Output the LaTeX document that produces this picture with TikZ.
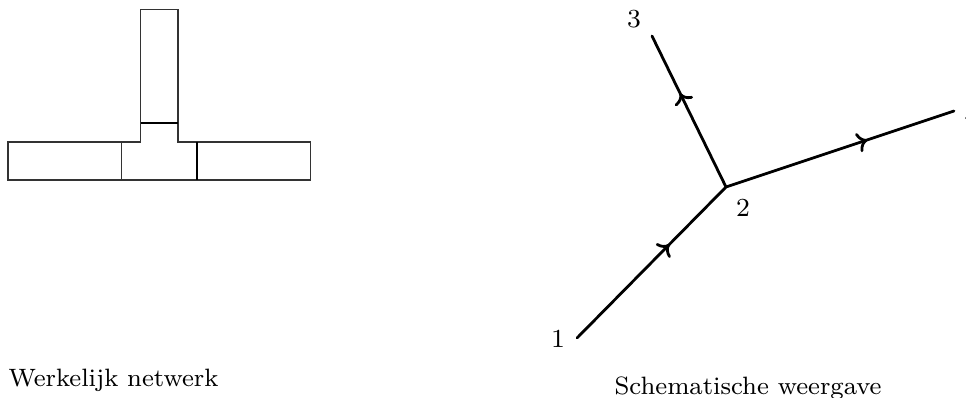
\documentclass[tikz,border=0pt]{standalone}
\usetikzlibrary{decorations.markings,arrows.meta}
\tikzset{
  pipe/.style={line width=1.15pt,black!80},
  flow/.style={line width=2.8pt,line cap=round,postaction={decorate},
    decoration={markings,mark=at position 0.62 with {\arrow[line width=2.8pt]{Computer Modern Rightarrow[length=10pt,width=20pt]}}}},
  lbl/.style={inner sep=0pt,scale=3.25,font=\fontsize{8}{10}\selectfont},
  captext/.style={inner sep=0pt,anchor=base west,scale=3.14,font=\fontsize{8}{10}\selectfont}
}
\begin{document}
\begin{tikzpicture}[x=1pt,y=-1pt]
\useasboundingbox (0,0) rectangle (966,398);
% network
\coordinate (a) at (8,142); \coordinate (b) at (140.5,142);
\coordinate (c) at (140.5,9.5); \coordinate (d) at (178,9.5);
\coordinate (e) at (178,142); \coordinate (f) at (310.5,142);
\coordinate (g) at (310.5,180); \coordinate (h) at (8,180);
\coordinate (j1) at (121.5,142); \coordinate (j2) at (121.5,180);
\coordinate (k1) at (197,142); \coordinate (k2) at (197,180);
\coordinate (m1) at (140.5,123); \coordinate (m2) at (178,123);
\draw[pipe,line join=miter] (a)--(b)--(c)--(d)--(e)--(f)--(g)--(h)--cycle;
\draw[pipe] (j1)--(j2);
\draw[pipe,line width=1.4pt,black] (k1)--(k2);
\draw[pipe,line width=1.4pt,black] (m1)--(m2);
% schematic
\coordinate (n1) at (577,338); \coordinate (n2) at (726,187);
\coordinate (n3) at (652,36); \coordinate (n4) at (954,111);
\draw[flow] (n1)--(n2);
\draw[flow] (n2)--(n3);
\draw[flow] (n2)--(n4);
\node[lbl] (l1) at (558,339) {1};
\node[lbl] (l2) at (743,208) {2};
\node[lbl] (l3) at (634,19) {3};
\node[lbl] (l4) at (971.5,115) {4};
\node[captext] (t1) at (8,386) {Werkelijk netwerk};
\node[captext] (t2) at (614,394) {Schematische weergave};
\end{tikzpicture}
\end{document}
